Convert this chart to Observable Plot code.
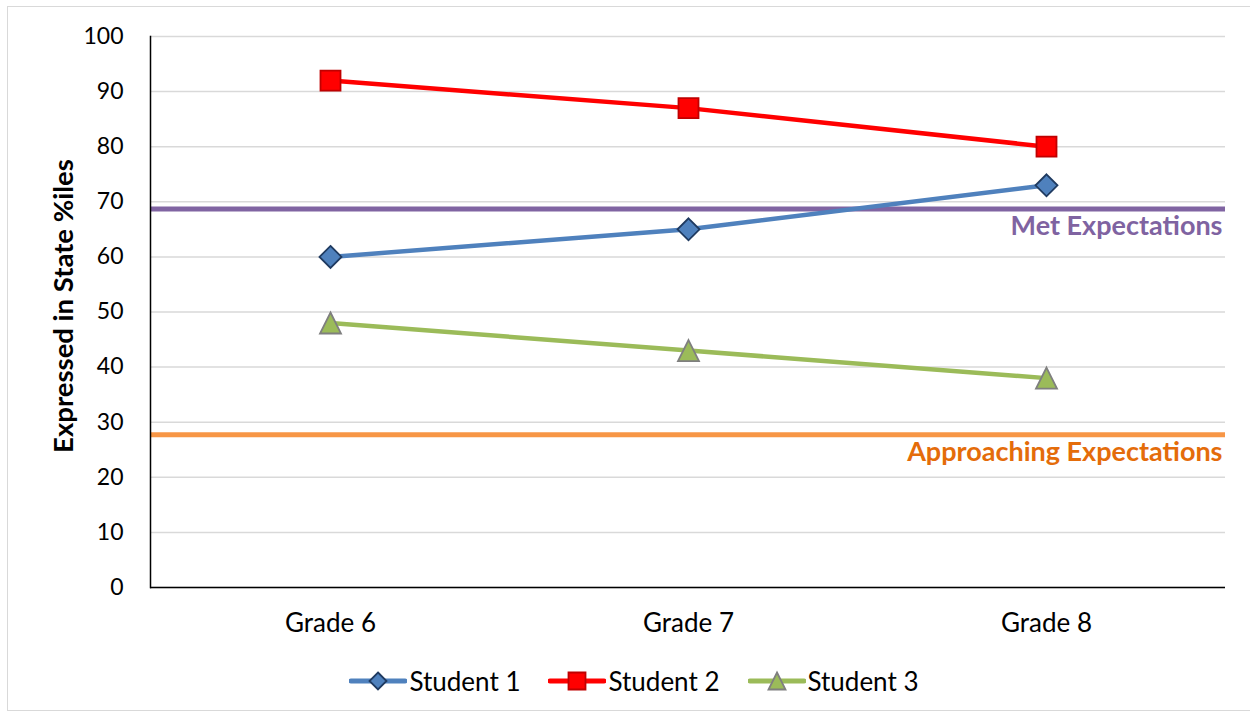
<!DOCTYPE html>
<html>
<head>
<meta charset="utf-8">
<script src="https://cdn.jsdelivr.net/npm/d3@7"></script>
<script src="https://cdn.jsdelivr.net/npm/@observablehq/plot@0.6"></script>
<style>
  body { margin: 0; background: #fff; font-family: Lato, "Open Sans", sans-serif; }
  #wrap { position: relative; width: 1250px; height: 717px; overflow: hidden; background: #fff; }
  #border { position: absolute; left: 7px; top: 6px; width: 1270px; height: 705px; border: 1px solid #d9d9d9; box-sizing: border-box; }
  #chart { position: absolute; left: 0; top: 0; }
  #legend { position: absolute; top: 665px; left: 0; width: 1250px; padding-left: 18px; box-sizing: border-box; display: flex; justify-content: center; gap: 28px; font-size: 26px; color: #000; }
  .item { display: flex; align-items: center; gap: 2px; }
</style>
</head>
<body>
<div id="wrap">
  <div id="border"></div>
  <div id="chart"></div>
  <div id="legend"></div>
</div>
<script>
// ---- data ----
const grades = ["Grade 6", "Grade 7", "Grade 8"];
const seriesNames = ["Student 1", "Student 2", "Student 3"];
const student1 = [60, 65, 73];
const student2 = [92, 87, 80];
const student3 = [48, 43, 38];
const yTicks = [0, 10, 20, 30, 40, 50, 60, 70, 80, 90, 100];
const thresholdLabels = ["Met Expectations", "Approaching Expectations"];
const thresholdValues = [68.7, 27.7];
const yTitle = "Expressed in State %iles";

// ---- styles ----
const lineColors = ["#4F81BD", "#FF0000", "#9BBB59"];
const markerStrokes = ["#1F3A60", "#C00000", "#7F7F7F"];
const thresholdLine = ["#8064A2", "#F79646"];
const thresholdText = ["#7F63A1", "#E46C0A"];

// custom Excel-like symbols (half-size h = sqrt(size/pi) => Plot r)
const symDiamond = { draw(ctx, size) { const h = Math.sqrt(size / Math.PI); ctx.moveTo(0, -h); ctx.lineTo(h, 0); ctx.lineTo(0, h); ctx.lineTo(-h, 0); ctx.closePath(); } };
const symSquare = { draw(ctx, size) { const h = Math.sqrt(size / Math.PI); ctx.rect(-h, -h, 2 * h, 2 * h); } };
const symTriangle = { draw(ctx, size) { const h = Math.sqrt(size / Math.PI); ctx.moveTo(0, -h); ctx.lineTo(h, h); ctx.lineTo(-h, h); ctx.closePath(); } };
const symbols = [symDiamond, symSquare, symTriangle];
const markerR = [11, 10, 10.5];

const values = [student1, student2, student3];
const seriesData = seriesNames.map((name, i) => grades.map((g, j) => ({ series: name, grade: g, value: values[i][j] })));
const thresholds = thresholdLabels.map((label, i) => ({ label, value: thresholdValues[i], line: thresholdLine[i], text: thresholdText[i] }));

const tickFont = 23;
const labelFont = 26;
const boldFont = 27;

const marks = [
  Plot.gridY(yTicks, { stroke: "#d9d9d9", strokeOpacity: 1, strokeWidth: 1.5 }),
  Plot.ruleY(thresholds, { y: "value", stroke: "line", strokeWidth: 5 }),
  Plot.text(thresholds, { y: "value", text: "label", fill: "text", frameAnchor: "right", textAnchor: "end", dy: 17, dx: -3, fontWeight: "bold", fontSize: boldFont }),
  Plot.ruleY([0], { stroke: "#000", strokeWidth: 1.5 }),
  Plot.frame({ anchor: "left", stroke: "#000", strokeWidth: 1.5 }),
  Plot.axisY(yTicks, { tickSize: 0, tickPadding: 27, fontSize: tickFont, label: null }),
  Plot.axisX({ tickSize: 0, tickPadding: 26, fontSize: labelFont, label: null }),
  Plot.text([yTitle], { frameAnchor: "left", textAnchor: "middle", rotate: -90, dx: -86, dy: -6, fontWeight: "bold", fontSize: 27.5, fill: "#000" })
];
seriesData.forEach((rows, i) => {
  marks.push(Plot.line(rows, { x: "grade", y: "value", stroke: lineColors[i], strokeWidth: 4.5 }));
});
seriesData.forEach((rows, i) => {
  marks.push(Plot.dot(rows, { x: "grade", y: "value", symbol: () => symbols[i], r: markerR[i], fill: lineColors[i], stroke: markerStrokes[i], strokeWidth: 1.8 }));
});

const chart = Plot.plot({
  width: 1250,
  height: 650,
  marginLeft: 150,
  marginRight: 25,
  marginTop: 36,
  marginBottom: 63,
  style: { fontFamily: "Lato, 'Open Sans', sans-serif", fontSize: tickFont + "px", color: "#000", background: "transparent" },
  x: { type: "point", domain: grades, padding: 0.5 },
  y: { domain: [0, 100] },
  symbol: { type: "identity" },
  marks
});
document.getElementById("chart").appendChild(chart);

// ---- legend ----
const legend = d3.select("#legend");
seriesNames.forEach((name, i) => {
  const item = legend.append("div").attr("class", "item");
  const svg = item.append("svg").attr("width", 58).attr("height", 28);
  svg.append("line").attr("x1", 2).attr("x2", 56).attr("y1", 14).attr("y2", 14)
    .attr("stroke", lineColors[i]).attr("stroke-width", 5).attr("stroke-linecap", "round");
  svg.append("path").attr("transform", "translate(29,14)")
    .attr("d", d3.symbol(symbols[i], Math.PI * 8.5 * 8.5)())
    .attr("fill", lineColors[i]).attr("stroke", markerStrokes[i]).attr("stroke-width", 1.8);
  item.append("span").text(name);
});
</script>
</body>
</html>
